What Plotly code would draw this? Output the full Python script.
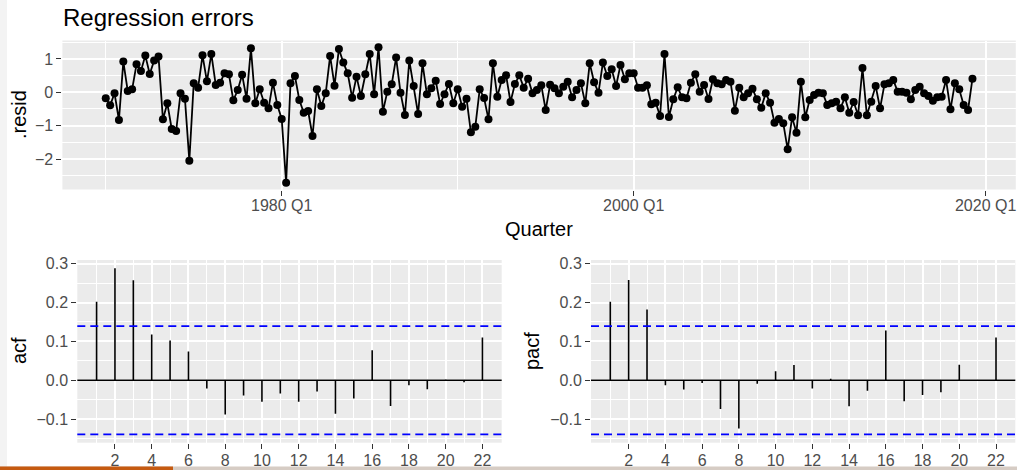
import plotly.graph_objects as go

W, H = 1017, 470

# ---------------- data ----------------
start_year = 1970  # 1970 Q1
resid = [
    -0.18, -0.39, -0.03, -0.83, 0.92, 0.04, 0.09, 0.84, 0.64, 1.10,
    0.55, 0.95, 1.07, -0.81, -0.33, -1.10, -1.16, -0.03, -0.19, -2.05,
    0.27, 0.14, 1.11, 0.33, 1.15, 0.22, 0.29, 0.57, 0.54, -0.24,
    0.07, 0.53, -0.19, 1.32, -0.33, 0.09, -0.31, -0.48, 0.29, -0.38,
    -0.80, -2.71, 0.27, 0.49, -0.23, -0.61, -0.56, -1.31, 0.09, -0.41,
    -0.03, 1.09, 0.20, 1.30, 0.89, 0.57, -0.16, 0.47, -0.11, 0.54,
    1.15, -0.06, 1.35, -0.58, 0.02, 0.24, 1.04, -0.01, -0.68, 0.95,
    0.19, -0.65, 0.87, -0.06, 0.12, 0.35, -0.35, -0.06, 0.25, -0.33,
    0.09, -0.43, -0.19, -1.20, -1.03, 0.09, -0.17, -0.81, 0.87, -0.13,
    0.37, 0.51, -0.29, 0.25, 0.51, 0.14, 0.41, -0.03, 0.07, 0.21,
    -0.53, 0.23, 0.12, -0.03, 0.17, 0.32, -0.15, 0.07, 0.27, -0.33,
    0.87, 0.30, -0.01, 0.89, 0.49, 0.69, 0.19, 0.82, 0.39, 0.57,
    0.57, 0.14, 0.14, 0.21, -0.36, -0.31, -0.71, 1.15, -0.74, -0.21,
    0.15, -0.15, -0.18, 0.29, 0.54, 0.02, 0.22, -0.20, 0.39, 0.27,
    0.24, 0.37, 0.32, -0.55, 0.14, -0.15, -0.03, 0.11, -0.21, -0.46,
    -0.03, -0.31, -0.91, -0.80, -0.93, -1.71, -0.75, -1.21, 0.32, -0.75,
    -0.23, -0.08, -0.01, -0.03, -0.38, -0.33, -0.28, -0.48, -0.15, -0.61,
    -0.29, -0.69, 0.73, -0.69, -0.28, 0.19, -0.48, 0.24, 0.27, 0.37,
    0.02, 0.02, -0.01, -0.21, 0.07, 0.17, -0.03, -0.11, -0.25, -0.15,
    -0.13, 0.37, -0.51, 0.27, 0.09, -0.38, -0.53, 0.41,
]
quarter = [start_year + i / 4 for i in range(len(resid))]

lags = list(range(1, 23))
acf = [0.202, 0.288, 0.257, 0.118, 0.102, 0.074, -0.021, -0.088, -0.039, -0.055,
       -0.034, -0.055, -0.029, -0.086, -0.047, 0.077, -0.066, -0.013, -0.023, 0.001,
       -0.005, 0.110]
pacf = [0.202, 0.258, 0.182, -0.013, -0.024, -0.007, -0.074, -0.124, -0.009, 0.023,
        0.039, -0.021, 0.004, -0.067, -0.027, 0.128, -0.054, -0.038, -0.031, 0.040,
        0.000, 0.110]
ci = 0.1393

year_ticks = [1980, 2000, 2020]
year_ticktext = ["1980 Q1", "2000 Q1", "2020 Q1"]
year_minor = [1970, 1990, 2010]
lag_ticks = list(range(2, 23, 2))
lag_minor = list(range(1, 24, 2))

# ---------------- helpers ----------------
def px_x(p):
    return p / W

def px_y(p):
    return 1 - p / H

PANEL = "#EBEBEB"
TICKC = "#4D4D4D"
FONT = "Liberation Sans, Arial, Helvetica, sans-serif"

def spikes(xs, ys):
    sx, sy = [], []
    for a, b in zip(xs, ys):
        sx += [a, a, None]
        sy += [0, b, None]
    return sx, sy

fig = go.Figure()

fig.add_trace(go.Scatter(
    x=quarter, y=resid, mode="lines+markers",
    line=dict(color="black", width=1.8),
    marker=dict(color="black", size=8),
    xaxis="x", yaxis="y", showlegend=False, hoverinfo="x+y"))

ax, ay = spikes(lags, acf)
fig.add_trace(go.Scatter(x=ax, y=ay, mode="lines", line=dict(color="black", width=1.6),
                         xaxis="x2", yaxis="y2", showlegend=False))
px_, py_ = spikes(lags, pacf)
fig.add_trace(go.Scatter(x=px_, y=py_, mode="lines", line=dict(color="black", width=1.6),
                         xaxis="x3", yaxis="y3", showlegend=False))

# ---------------- axes ----------------
def axis_common(**kw):
    d = dict(
        showline=False, zeroline=False, automargin=False,
        showgrid=True, gridcolor="white", gridwidth=1.6,
        ticks="outside", ticklen=5, tickwidth=1.2, tickcolor="#333333",
        tickfont=dict(family=FONT, size=16, color=TICKC),
        fixedrange=True,
    )
    d.update(kw)
    return d

top_range = [min(resid) - 0.05 * (max(resid) - min(resid)),
             max(resid) + 0.05 * (max(resid) - min(resid))]
span = quarter[-1] - quarter[0]
x_range = [quarter[0] - 0.05 * span, quarter[-1] + 0.05 * span]

lo = min(min(acf), -ci)
hi = max(max(acf), ci)
acf_range = [lo - 0.05 * (hi - lo), hi + 0.05 * (hi - lo)]
lag_range = [1 - 0.05 * 21, 22 + 0.05 * 21]

minor_grid = dict(showgrid=True, gridcolor="white", gridwidth=0.8, ticks="")

fig.update_layout(
    width=W, height=H,
    margin=dict(l=0, r=0, t=0, b=0),
    paper_bgcolor="white", plot_bgcolor=PANEL,
    font=dict(family=FONT),
    showlegend=False,
    xaxis=axis_common(domain=[px_x(62.4), px_x(1015.8)], anchor="y", range=x_range,
                      tickmode="array", tickvals=year_ticks, ticktext=year_ticktext,
                      ticklabelstandoff=-4,
                      minor=dict(tickmode="array", tickvals=year_minor, **minor_grid)),
    yaxis=axis_common(domain=[px_y(189.5), px_y(40.5)], anchor="x", range=top_range,
                      tickmode="array", tickvals=[-2, -1, 0, 1], ticktext=["\u22122", "\u22121", "0", "1"],
                      minor=dict(tickmode="array", tickvals=[-2.5, -1.5, -0.5, 0.5, 1.5], **minor_grid)),
    xaxis2=axis_common(domain=[px_x(77.3), px_x(501.7)], anchor="y2", range=lag_range,
                       tickmode="array", tickvals=lag_ticks, ticklabelstandoff=-2,
                       minor=dict(tickmode="array", tickvals=lag_minor, **minor_grid)),
    yaxis2=axis_common(domain=[px_y(442.7), px_y(260)], anchor="x2", range=acf_range,
                       tickmode="array", tickvals=[-0.1, 0, 0.1, 0.2, 0.3],
                       ticktext=["\u22120.1", "0.0", "0.1", "0.2", "0.3"],
                       minor=dict(tickmode="array", tickvals=[-0.15, -0.05, 0.05, 0.15, 0.25], **minor_grid)),
    xaxis3=axis_common(domain=[px_x(591), px_x(1015.3)], anchor="y3", range=lag_range,
                       tickmode="array", tickvals=lag_ticks, ticklabelstandoff=-2,
                       minor=dict(tickmode="array", tickvals=lag_minor, **minor_grid)),
    yaxis3=axis_common(domain=[px_y(442.7), px_y(260)], anchor="x3", range=acf_range,
                       tickmode="array", tickvals=[-0.1, 0, 0.1, 0.2, 0.3],
                       ticktext=["\u22120.1", "0.0", "0.1", "0.2", "0.3"],
                       minor=dict(tickmode="array", tickvals=[-0.15, -0.05, 0.05, 0.15, 0.25], **minor_grid)),
)

shapes = []
for xa, ya in (("x2", "y2"), ("x3", "y3")):
    shapes.append(dict(type="line", xref=f"{xa} domain", yref=ya, x0=0, x1=1, y0=0, y1=0,
                       line=dict(color="black", width=1.6), layer="above"))
    for v in (ci, -ci):
        shapes.append(dict(type="line", xref=f"{xa} domain", yref=ya, x0=0, x1=1, y0=v, y1=v,
                           line=dict(color="blue", width=1.6, dash="8px,5px"), layer="above"))
# slide decorations: left strip and bottom progress bar
shapes.append(dict(type="rect", xref="paper", yref="paper", x0=0, x1=px_x(7), y0=0, y1=1,
                   fillcolor="#F3F3F3", line=dict(width=0), layer="below"))
shapes.append(dict(type="rect", xref="paper", yref="paper", x0=0, x1=1, y0=0, y1=px_y(466.5),
                   fillcolor="#D6CCC4", line=dict(width=0), layer="above"))
shapes.append(dict(type="rect", xref="paper", yref="paper", x0=0, x1=px_x(173), y0=0, y1=px_y(466.5),
                   fillcolor="#C55A11", line=dict(width=0), layer="above"))
fig.update_layout(shapes=shapes)

def label(text, x, y, size, angle=0, xanchor="center", yanchor="middle", color="black"):
    fig.add_annotation(text=text, x=px_x(x), y=px_y(y), xref="paper", yref="paper",
                       showarrow=False, textangle=angle, xanchor=xanchor, yanchor=yanchor,
                       font=dict(family=FONT, size=size, color=color))

label("Regression errors", 61, 17, 24, xanchor="left")
label(".resid", 19, 115, 20, angle=-90)
label("Quarter", 539, 229, 20)
label("acf", 19, 351, 20, angle=-90)
label("pacf", 532, 351, 20, angle=-90)

fig.write_html("out.html")
